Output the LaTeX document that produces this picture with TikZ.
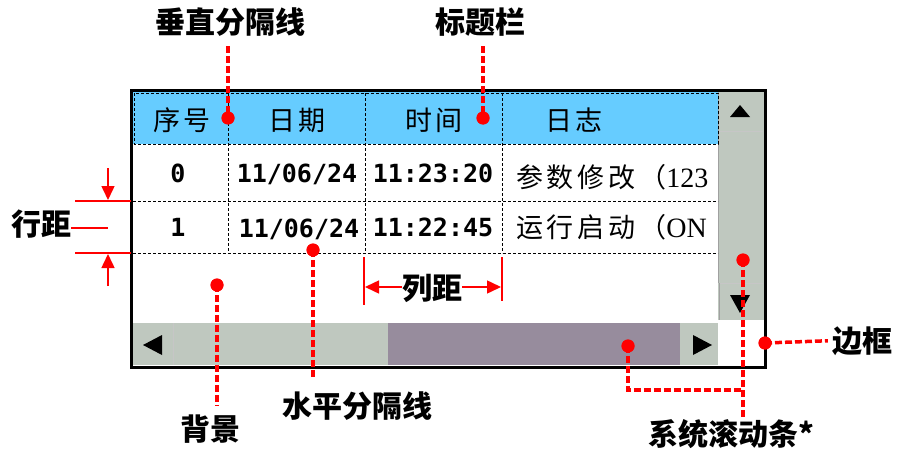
\documentclass[tikz,border=0pt]{standalone}
\usepackage{fontspec}
\newfontfamily\cjk{Noto Sans CJK SC}
\newfontfamily\cjksp[LetterSpace=14]{Noto Sans CJK SC}
\newfontfamily\mono{DejaVu Sans Mono}
\newfontfamily\serifx{Liberation Serif}
\usetikzlibrary{arrows.meta}
\definecolor{hdr}{HTML}{66CCFF}
\definecolor{sbg}{HTML}{BFC8BF}
\definecolor{sbp}{HTML}{978C9D}
\definecolor{sbedge}{HTML}{A0A0A0}
\tikzset{
  lbl/.style={font=\cjk\bfseries\fontsize{30}{30}\selectfont, inner sep=0pt, anchor=base},
  hd/.style={font=\cjksp\fontsize{27}{27}\selectfont, inner sep=0pt, anchor=base},
  num/.style={font=\mono\bfseries\fontsize{25}{25}\selectfont, inner sep=0pt, anchor=base},
  logtxt/.style={font=\cjksp\fontsize{27}{27}\selectfont, inner sep=0pt, anchor=base west},
  gridline/.style={line width=1pt, dash pattern=on 3pt off 2pt},
  reddash/.style={red, line width=3.5pt, dash pattern=on 7pt off 3pt},
  reddot/.style={circle, fill=red, inner sep=0pt, minimum size=13pt},
  redline/.style={red, line width=1.5pt},
  redarrow/.style={redline, -{Triangle[length=14pt,width=13pt]}},
  tri/.style={fill=black}
}
\begin{document}
\begin{tikzpicture}[x=1pt,y=-1pt]
\useasboundingbox (0,0) rectangle (897,452);
\fill[white] (0,0) rectangle (897,452);
% header
\fill[hdr] (133,92) rectangle (718,144);
% vertical scrollbar
\fill[sbg] (718,92) rectangle (764,320);
\draw[sbedge, line width=1pt] (718.5,92) -- (718.5,283);
\draw[sbedge!60, line width=1pt] (719,131) -- (763,131);
\draw[sbedge!60, line width=1pt] (719,283) -- (763,283);
\draw[sbedge, line width=1pt] (719,283) -- (719,320);
% horizontal scrollbar
\fill[sbg] (133,323) rectangle (388,365);
\fill[sbp] (388,323) rectangle (680,365);
\fill[sbg] (680,323) rectangle (718,365);
\draw[sbedge!60, line width=1pt] (173.5,323) -- (173.5,365);
\fill[white] (718,320) rectangle (764,365);
% grid
\draw[gridline] (134,93) rectangle (718,144);
\draw[gridline] (133,201) -- (718,201);
\draw[gridline] (133,253) -- (718,253);
\draw[gridline] (228,93) -- (228,253);
\draw[gridline] (365,93) -- (365,253);
\draw[gridline] (502,93) -- (502,253);
% frame
\draw[line width=3pt] (131,90) rectangle (765,367);
% scroll arrows
\fill[tri] (730,117) -- (750,117) -- (740,105) -- cycle;
\fill[tri] (730,295) -- (750,295) -- (740,313) -- cycle;
\fill[tri] (162,335) -- (162,355) -- (143,345) -- cycle;
\fill[tri] (693,335) -- (693,355) -- (712,345) -- cycle;
% header texts
\node[hd] (h1) at (182,130) {序号};
\node[hd] (h2) at (297,130) {日期};
\node[hd] (h3) at (434,130) {时间};
\node[hd] (h4) at (574,130) {日志};
% rows
\node[num] (r0a) at (178,182) {0};
\node[num] (r0b) at (297,182) {11/06/24};
\node[num] (r0c) at (433,182) {11:23:20};
\node[num] (r1a) at (178,236) {1};
\node[num] (r1b) at (299,237) {11/06/24};
\node[num] (r1c) at (433,236) {11:22:45};
\begin{scope}
\clip (503,146) rectangle (717,252);
\node[logtxt] (r0d) at (516,187) {参数修改（{\serifx\fontsize{28}{28}\selectfont 123}};
\node[logtxt] (r1d) at (516,237) {运行启动（{\serifx\fontsize{28}{28}\selectfont ON}};
\end{scope}
% annotations: labels
\node[lbl] (vl) at (230,34) {垂直分隔线};
\node[lbl] (tl) at (480,34) {标题栏};
\node[lbl] (hl) at (41,235) {行距};
\node[lbl] (cl) at (432,299) {列距};
\node[lbl] (bg) at (210,440) {背景};
\node[lbl] (hs) at (357,417) {水平分隔线};
\node[lbl] (bk) at (862,352) {边框};
\node[lbl] (sc) at (731,445) {系统滚动条*};
% dots
\node[reddot] (vdot) at (228,118) {};
\node[reddot] (tdot) at (483,118) {};
\node[reddot] (bgdot) at (217,285) {};
\node[reddot] (hsdot) at (313,250) {};
\node[reddot] (bkdot) at (765,343) {};
\node[reddot] (hsbdot) at (628,346) {};
\node[reddot] (vsbdot) at (743,260) {};
\coordinate (turn1) at (628,390);
\coordinate (turn2) at (743,390);
% dashed connectors
\draw[reddash] ([yshift=-9pt]vl.south -| vdot) -- (vdot.center);
\draw[reddash] ([yshift=-9pt]tl.south -| tdot) -- (tdot.center);
\draw[reddash] (bgdot.center) -- ([yshift=9pt]bgdot |- bg.north);
\draw[reddash] (hsdot.center) -- ([yshift=11pt]hsdot |- hs.north);
\draw[reddash] (bkdot.center) -- ([xshift=-4pt]bk.west);
\draw[reddash] (hsbdot.center) -- (turn1) -- (turn2);
\draw[reddash] (vsbdot.center) -- ([yshift=2pt]vsbdot |- sc.north);
\node[reddot] at (vdot) {};
\node[reddot] at (tdot) {};
\node[reddot] at (bgdot) {};
\node[reddot] at (hsdot) {};
\node[reddot] at (bkdot) {};
\node[reddot] at (hsbdot) {};
\node[reddot] at (vsbdot) {};
% row spacing
\coordinate (hlend) at (108,228);
\coordinate (ra1) at (75,201);
\coordinate (rb1) at (131,201);
\coordinate (ra2) at (75,253);
\coordinate (rb2) at (131,253);
\coordinate (at1) at (108,168);
\coordinate (ah1) at (108,200);
\coordinate (at2) at (108,286);
\coordinate (ah2) at (108,254);
\draw[redline] (hl.east |- hlend) -- (hlend);
\draw[redline] (ra1) -- (rb1);
\draw[redline] (ra2) -- (rb2);
\draw[redarrow] (at1) -- (ah1);
\draw[redarrow] (at2) -- (ah2);
% column spacing
\coordinate (cv1a) at (364,257);
\coordinate (cv1b) at (364,305);
\coordinate (cv2a) at (502,257);
\coordinate (cv2b) at (502,301);
\coordinate (cah1) at (365,287);
\coordinate (cah2) at (501,287);
\draw[redline] (cv1a) -- (cv1b);
\draw[redline] (cv2a) -- (cv2b);
\draw[redarrow] (cl.west |- cah1) -- (cah1);
\draw[redarrow] (cl.east |- cah2) -- (cah2);
\end{tikzpicture}
\end{document}
